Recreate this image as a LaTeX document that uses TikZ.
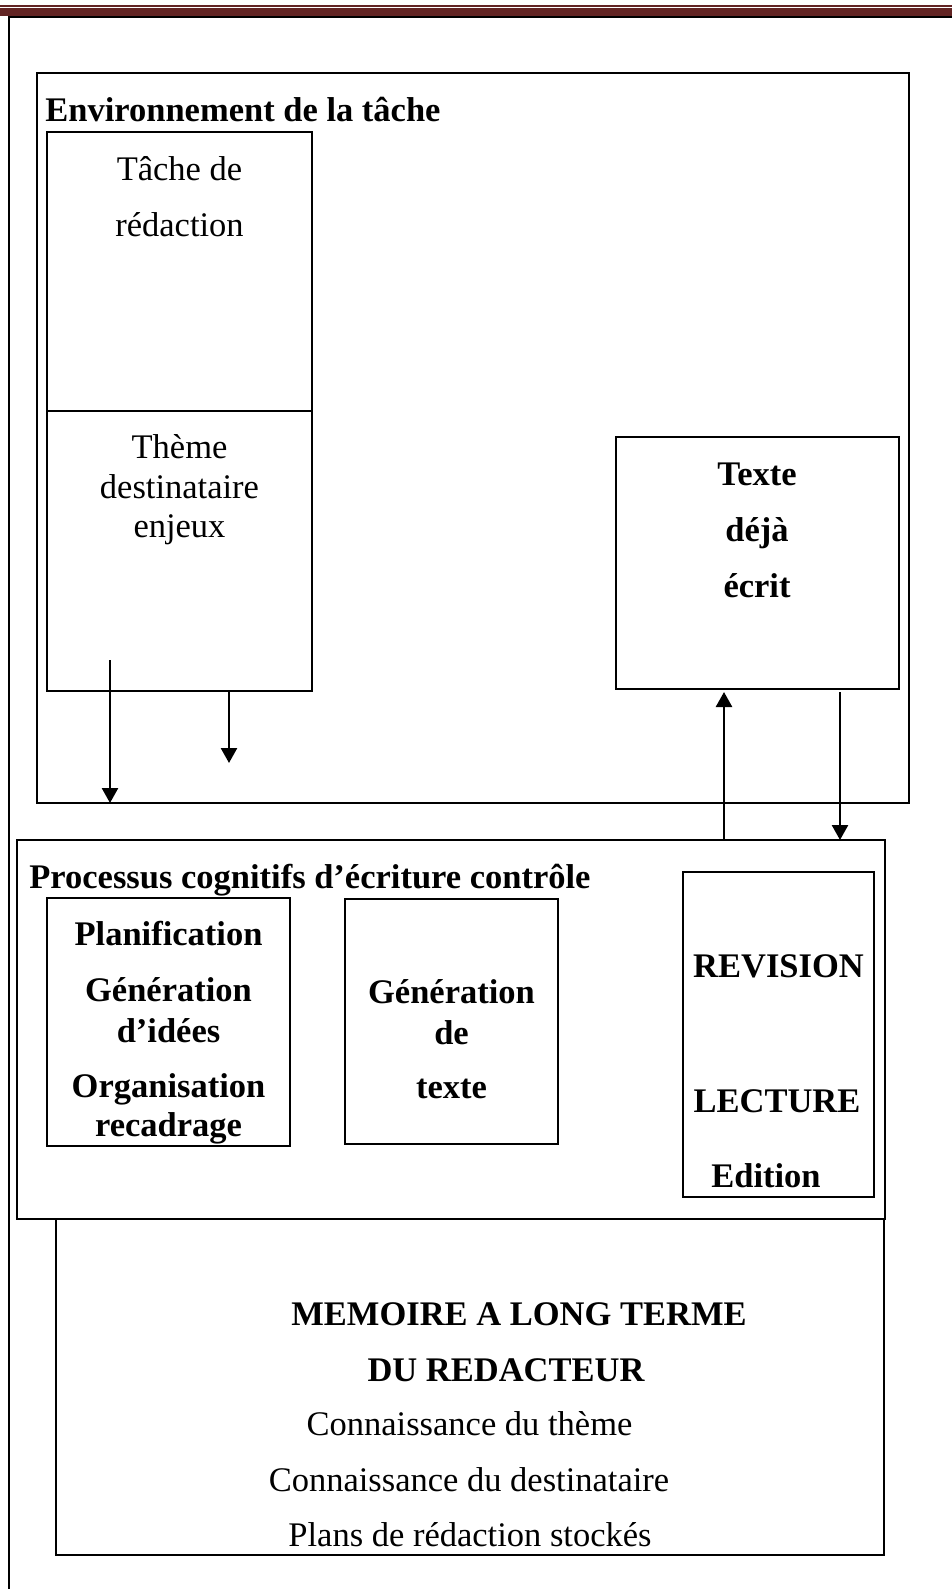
\documentclass[tikz,border=0pt]{standalone}
\usepackage{fontspec}
\setmainfont{Liberation Serif}
\usetikzlibrary{arrows.meta,fit}
\definecolor{Ink}{HTML}{000000}
\definecolor{Rule}{HTML}{622423}
\newcommand\bodysize{\fontsize{17.25pt}{20pt}\selectfont}
\tikzset{
  frame/.style={draw=Ink, line width=1.2pt, inner sep=0pt, outer sep=0pt},
  heavyframe/.style={frame, line width=1.45pt},
  txt/.style={font=\bodysize, anchor=base, inner sep=0pt, text=Ink},
  txtbf/.style={txt, font=\bodysize\bfseries},
  flow/.style={-{Triangle[width=8pt,length=7.5pt]}, line width=1.3pt, draw=Ink}
}

\begin{document}
\begin{tikzpicture}[x=0.5pt,y=-0.5pt]
    \useasboundingbox (0,0) rectangle (952,1589);
    % page rules
    \fill[Rule] (0,4.8) rectangle (952,6.9);
    \fill[Rule] (0,8) rectangle (952,16.3);
    \draw[line width=1.1pt] (952,17) -- (9,17) -- (9,1589);

    % task environment
    \node[frame, fit={(37,73) (909,803)}] (env) {};
    \node[txtbf, anchor=base west] (envtitle) at (45,122) {Environnement de la tâche};
    \node[frame, fit={(47,132) (312,411)}] (task) {};
    \node[frame, fit={(47,411) (312,691)}] (theme) {};
    \node[txt] (task1) at (179.5,181) {Tâche de};
    \node[txt] (task2) at (179.5,236) {rédaction};
    \node[txt] (theme1) at (179.5,458) {Thème};
    \node[txt] (theme2) at (179.5,498) {destinataire};
    \node[txt] (theme3) at (179.5,537) {enjeux};
    \node[frame, fit={(616,437) (899,689)}] (written) {};
    \node[txtbf] (written1) at (757,485) {Texte};
    \node[txtbf] (written2) at (757,541) {déjà};
    \node[txtbf] (written3) at (757,597) {écrit};

    % cognitive processes
    \node[heavyframe, fit={(17,840) (885,1219)}] (cog) {};
    \node[txtbf, anchor=base west] (cogtitle) at (29,888) {Processus cognitifs d’écriture contrôle};
    \node[frame, fit={(47,898) (290,1146)}] (plan) {};
    \node[txtbf] (plan1) at (168.5,945) {Planification};
    \node[txtbf] (plan2) at (168.5,1001) {Génération};
    \node[txtbf] (plan3) at (168.5,1042) {d’idées};
    \node[txtbf] (plan4) at (168.5,1097) {Organisation};
    \node[txtbf] (plan5) at (168.5,1136) {recadrage};
    \node[frame, fit={(345,899) (558,1144)}] (gen) {};
    \node[txtbf] (gen1) at (451.5,1003) {Génération};
    \node[txtbf] (gen2) at (451.5,1044) {de};
    \node[txtbf] (gen3) at (451.5,1098) {texte};
    \node[frame, fit={(683,872) (874,1197)}] (rev) {};
    \node[txtbf] (rev1) at (778.5,977) {REVISION};
    \node[txtbf] (rev2) at (777,1112) {LECTURE};
    \node[txtbf] (rev3) at (766,1187) {Edition};

    % long term memory
    \node[frame, fit={(56,1219) (884,1555)}] (mem) {};
    \node[txtbf] (mem1) at (519,1325) {MEMOIRE A LONG TERME};
    \node[txtbf] (mem2) at (506,1381) {DU REDACTEUR};
    \node[txt] (mem3) at (469.5,1435) {Connaissance du thème};
    \node[txt] (mem4) at (469,1491) {Connaissance du destinataire};
    \node[txt] (mem5) at (470,1546) {Plans de rédaction stockés};

    % arrows
    \coordinate (src1) at (110,660);
    \coordinate (tip2) at (229,763);
    \draw[flow] (src1) -- (src1 |- env.south);
    \draw[flow] (theme.south -| tip2) -- (tip2);
    \draw[flow, shorten >=1.5pt] (cog.north -| 724,0) -- (written.south -| 724,0);
    \draw[flow, shorten <=1.5pt] (written.south -| 840,0) -- (cog.north -| 840,0);
\end{tikzpicture}
\end{document}
